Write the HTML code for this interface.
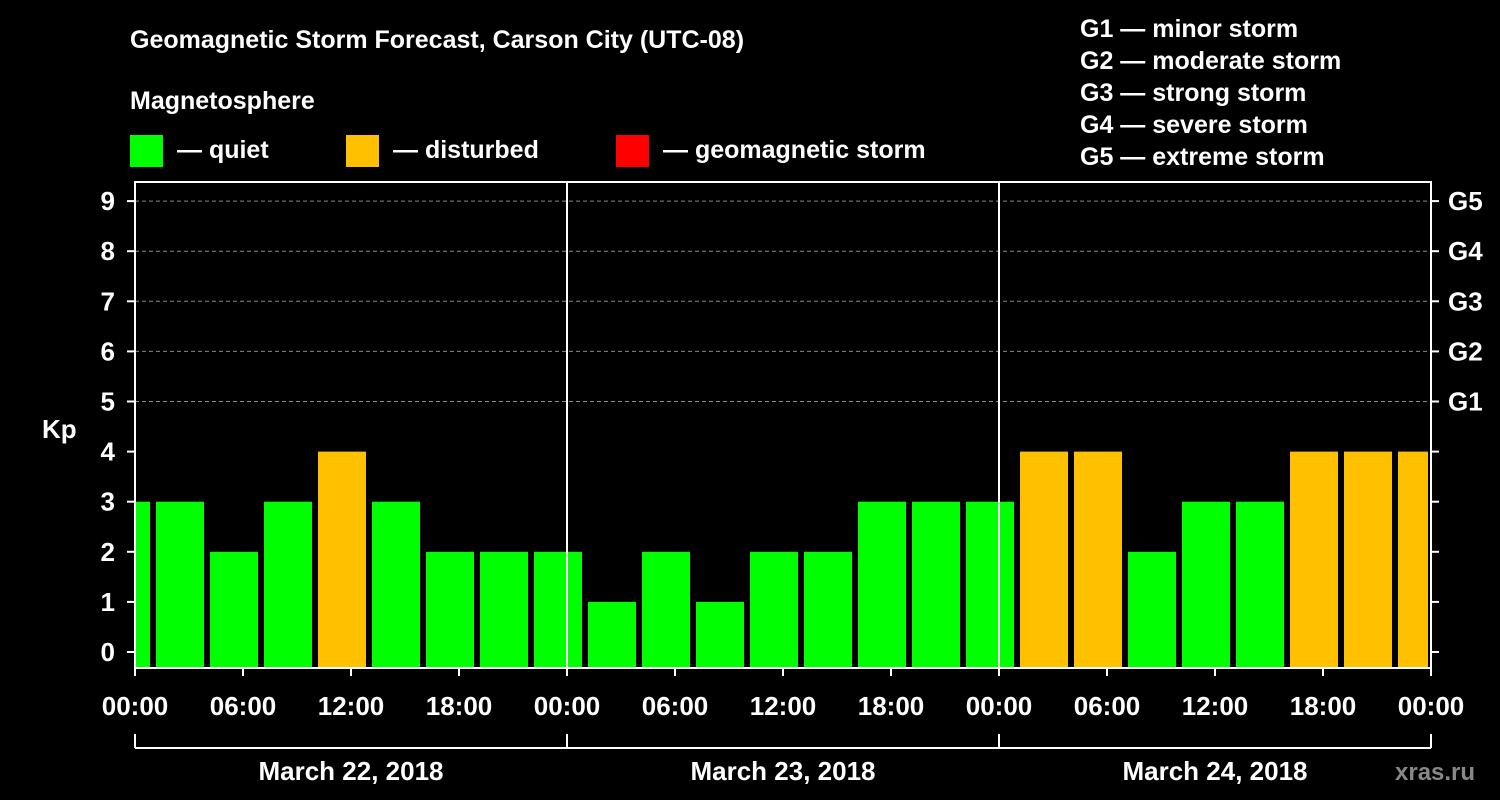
<!DOCTYPE html>
<html><head><meta charset="utf-8"><style>
html,body{margin:0;padding:0;background:#000;}
svg{display:block;font-family:"Liberation Sans",sans-serif;font-weight:bold;}
</style></head><body>
<svg width="1500" height="800" viewBox="0 0 1500 800">
<g fill="#fff" font-size="26">
<text x="130" y="48" font-size="25">Geomagnetic Storm Forecast, Carson City (UTC-08)</text>
<text x="130" y="109" font-size="25">Magnetosphere</text>
<rect x="130" y="135" width="33" height="32" fill="#00ff00"/>
<text x="177" y="158" font-size="25">— quiet</text>
<rect x="346" y="135" width="33" height="32" fill="#ffc000"/>
<text x="393" y="158" font-size="25">— disturbed</text>
<rect x="616" y="135" width="33" height="32" fill="#ff0000"/>
<text x="663" y="158" font-size="25">— geomagnetic storm</text>
<g font-size="25">
<text x="1080" y="37">G1 — minor storm</text>
<text x="1080" y="69">G2 — moderate storm</text>
<text x="1080" y="101">G3 — strong storm</text>
<text x="1080" y="133">G4 — severe storm</text>
<text x="1080" y="165">G5 — extreme storm</text>
</g>
<text x="42" y="438">Kp</text>
<text x="1395" y="780" font-size="24" fill="#888">xras.ru</text>
</g>
<g id="plot"></g>
</svg>
<script>
const kpValues=[3,3,2,3,4,3,2,2,2,1,2,1,2,2,3,3,3,4,4,2,3,3,4,4,4];
const kpTicks=[0,1,2,3,4,5,6,7,8,9];
const gLabels=["G1","G2","G3","G4","G5"];
const hourLabels=["00:00","06:00","12:00","18:00","00:00","06:00","12:00","18:00","00:00","06:00","12:00","18:00","00:00"];
const dayLabels=["March 22, 2018","March 23, 2018","March 24, 2018"];
const firstBarHour=-2, barHours=3;

const X0=135,X1=1431,TOTALH=72,Y0=652,DY=50.1,TOP=182,BOT=668;
const xs=h=>X0+(h/TOTALH)*(X1-X0);
const ys=v=>Y0-v*DY;
const NS="http://www.w3.org/2000/svg";
const g=document.getElementById('plot');
function mk(t,a){const e=document.createElementNS(NS,t);for(const k in a)e.setAttribute(k,a[k]);g.appendChild(e);return e;}

// grid
gLabels.forEach((lab,i)=>{const y=ys(5+i);
 const l=mk('line',{x1:X0,x2:X1,y1:y,y2:y,stroke:'#888','stroke-dasharray':'4,3','stroke-width':1});
 
 
 const t=mk('text',{x:1448,y:y+9,fill:'#fff','font-size':26});t.textContent=lab;
 
 
});
// bars
kpValues.forEach((v,i)=>{
 const h0=firstBarHour+i*barHours,h1=h0+barHours;
 let a=xs(h0)+3,b=xs(h1)-3;a=Math.max(a,X0);b=Math.min(b,X1-3);
 const r=mk('rect',{x:a,y:ys(v),width:b-a,height:BOT-ys(v),fill:v>=5?'#ff0000':(v>=4?'#ffc000':'#00ff00')});
 
 
});
// frame
const f=mk('rect',{x:X0,y:TOP,width:X1-X0,height:BOT-TOP,fill:'none',stroke:'#fff','stroke-width':2});


[24,48].forEach(h=>{const l=mk('line',{x1:xs(h),x2:xs(h),y1:TOP,y2:BOT,stroke:'#fff','stroke-width':2});
 
 });
// y ticks
kpTicks.forEach(v=>{const y=ys(v);
 mk('line',{x1:X0-8,x2:X0,y1:y,y2:y,stroke:'#fff','stroke-width':2});
 mk('line',{x1:X1,x2:X1+8,y1:y,y2:y,stroke:'#fff','stroke-width':2});
 const t=mk('text',{x:X0-20,y:y+9,fill:'#fff','font-size':26,'text-anchor':'end'});t.textContent=v;
 
 
});
// x ticks
hourLabels.forEach((lab,i)=>{const x=xs(i*6);
 mk('line',{x1:x,x2:x,y1:BOT,y2:BOT+8,stroke:'#fff','stroke-width':2});
 const t=mk('text',{x:x,y:715,fill:'#fff','font-size':26,'text-anchor':'middle'});t.textContent=lab;
 
 
});
// day bracket
mk('line',{x1:X0,x2:X1,y1:748,y2:748,stroke:'#fff','stroke-width':2});
[0,24,48,72].forEach(h=>mk('line',{x1:xs(h),x2:xs(h),y1:734,y2:748,stroke:'#fff','stroke-width':2}));
dayLabels.forEach((lab,i)=>{const t=mk('text',{x:xs(i*24+12),y:780,fill:'#fff','font-size':26,'text-anchor':'middle'});t.textContent=lab;
 
 });
</script>
</body></html>
